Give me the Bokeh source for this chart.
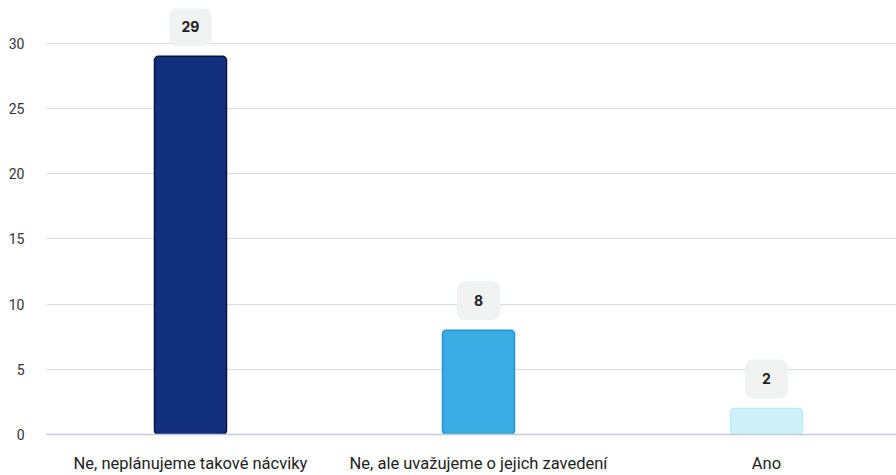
from bokeh.plotting import figure
from bokeh.models import (ColumnDataSource, Range1d, FixedTicker, SingleIntervalTicker, Label)
from bokeh.embed import file_html
from bokeh.resources import INLINE

categories = ["Ne, neplánujeme takové nácviky", "Ne, ale uvažujeme o jejich zavedení", "Ano"]
values = [29, 8, 2]
fill_colors = ["#13307f", "#3aace4", "#cdf0f9"]
line_colors = ["#06123f", "#2590d2", "#c3ebf6"]
y_ticks_interval = 5

xs = list(range(len(categories)))
src = ColumnDataSource(dict(x=xs, top=values, fill=fill_colors, line=line_colors))

p = figure(width=896, height=475, output_backend="svg", toolbar_location=None,
           x_range=Range1d(-0.5, 2.4514), y_range=Range1d(0, 32.665),
           min_border_left=46, min_border_right=0, min_border_top=8, min_border_bottom=38)
p.outline_line_color = None
p.background_fill_color = "white"
p.border_fill_color = "white"

p.vbar(x="x", top="top", width=0.25, bottom=0, fill_color="fill", line_color="line",
       line_width=1.5, border_radius=4, source=src)

for xi, v in zip(xs, values):
    txt = str(v)
    hpad = 17 if len(txt) == 1 else 12
    p.add_layout(Label(x=xi, y=v, y_offset=10, text=txt, text_align="center",
                       text_baseline="bottom", text_font="Inter", text_font_size="14px",
                       text_font_style="bold", text_color="#222222",
                       background_fill_color="#f1f2f2", border_line_color=None,
                       padding=(hpad, 14), border_radius=8))

p.xgrid.grid_line_color = None
p.ygrid.grid_line_color = "#dcdcdc"
p.ygrid.grid_line_width = 1

xa = p.xaxis[0]
xa.ticker = FixedTicker(ticks=xs)
xa.major_label_overrides = {i: c for i, c in enumerate(categories)}
xa.axis_line_color = "#c7cad8"
xa.axis_line_width = 1.5
xa.major_tick_line_color = None
xa.minor_tick_line_color = None
xa.major_tick_out = 0
xa.major_label_standoff = 19
xa.major_label_text_font = "Roboto"
xa.major_label_text_font_size = "16.5px"
xa.major_label_text_color = "#222222"

ya = p.yaxis[0]
ya.ticker = SingleIntervalTicker(interval=y_ticks_interval)
ya.axis_line_color = None
ya.major_tick_line_color = None
ya.minor_tick_line_color = None
ya.major_tick_out = 0
ya.major_label_standoff = 18
ya.major_label_text_font = "Roboto"
ya.major_label_text_font_size = "14px"
ya.major_label_text_color = "#333333"

open("out.html", "w").write(file_html(p, INLINE))
